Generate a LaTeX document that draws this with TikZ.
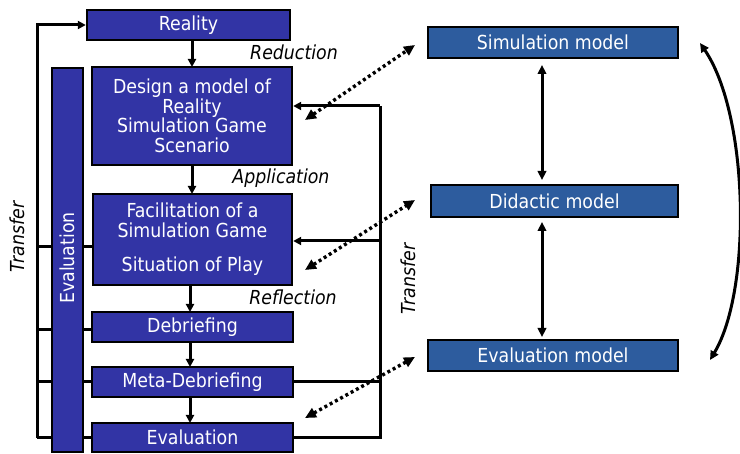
\documentclass[tikz,border=0pt]{standalone}
\usepackage{fontspec}
\setmainfont{DejaVu Sans Condensed}
\usetikzlibrary{arrows.meta,calc}
\definecolor{leftblue}{RGB}{50,52,165}
\definecolor{rightblue}{RGB}{45,92,158}
\begin{document}
\begin{tikzpicture}[x=1pt,y=-1pt,
  lbox/.style={draw=black,line width=2.4pt,fill=leftblue,text=white,
    font=\fontsize{19.3}{19.6}\selectfont,align=center,inner sep=0pt},
  rbox/.style={draw=black,line width=2.4pt,fill=rightblue,text=white,
    font=\fontsize{19.3}{20}\selectfont,align=center,inner sep=0pt},
  conn/.style={line width=3pt},
  tip/.style={-{Triangle[length=8pt,width=8pt]}},
  dtip/.style={{Triangle[length=9pt,width=8.5pt]}-{Triangle[length=9pt,width=8.5pt]}},
  dots/.style={line width=3.4pt,dash pattern=on 3pt off 3pt,
    {Triangle[length=11pt,width=10pt]}-{Triangle[length=11pt,width=10pt]}},
  lbl/.style={font=\fontsize{19.3}{20}\selectfont\itshape,inner sep=0pt}
]
\useasboundingbox[fill=white] (0,0) rectangle (740,454);

% left column
\node[lbox,minimum width=203,minimum height=30] (reality) at (188.5,25) {Reality};
\node[lbox,minimum width=200,minimum height=98] (design) at (192,116)
  {Design a model of\\Reality\\Simulation Game\\Scenario};
\node[lbox,minimum width=199,minimum height=91] (facil) at (192.5,239.5)
  {Facilitation of a\\Simulation Game\\[15pt]Situation of Play};
\node[lbox,minimum width=201,minimum height=30] (debrief) at (192.5,327) {Debriefing};
\node[lbox,minimum width=201,minimum height=30] (meta) at (192.5,382) {Meta-Debriefing};
\node[lbox,minimum width=201,minimum height=29] (evalb) at (192.5,437.5) {Evaluation};

% feedback coordinates
\coordinate (L) at (37,25);
\coordinate (Lb) at (37,438);
\coordinate (R) at (380,106);
\coordinate (Rb) at (380,438);

% left ticks (behind the bar)
\draw[conn] (37,247) -- (facil.west |- 0,247);
\draw[conn] (37,330) -- (debrief.west |- 0,330);
\draw[conn] (37,382) -- (meta.west);
\draw[conn] (Lb) -- (evalb.west |- Lb);
\draw[conn,tip] (Lb) -- (L) -- (reality.west |- L);

\node[lbox,minimum width=31,minimum height=384] (evalbar) at (67.5,260) {};
\node[lbox,rotate=90,fill=none,draw=none] (evaltxt) at (67.5,258) {Evaluation};

% right feedback
\draw[conn] (evalb.east |- Rb) -- (Rb) -- (R);
\draw[conn,tip] (R) -- (design.east |- R);
\draw[conn,tip] (380,241) -- (facil.east |- 0,241);
\draw[conn] (meta.east) -- (380,382);

% down arrows
\draw[conn,tip] (192,40) -- (192,67);
\draw[conn,tip] (192,165) -- (192,194);
\draw[conn,tip] (190,285) -- (190,312);
\draw[conn,tip] (190,342) -- (190,367);
\draw[conn,tip] (190,397) -- (190,423);

% labels
\node[lbl] (red) at (294,52) {Reduction};
\node[lbl] (app) at (281,178) {Application};
\node[lbl] (refl) at (293,297) {Reflection};
\node[lbl,rotate=90] (tl) at (17,237) {Transfer};
\node[lbl,rotate=90] (tr) at (408,279) {Transfer};

% right column
\node[rbox,minimum width=250,minimum height=31] (simm) at (553,42.5) {Simulation model};
\node[rbox,minimum width=247,minimum height=32] (didm) at (554.5,201) {Didactic model};
\node[rbox,minimum width=250,minimum height=31] (evalm) at (553,355.5) {Evaluation model};

\draw[conn,dtip] (542,65) -- (542,180);
\draw[conn,dtip] (542,222) -- (542,337);
\draw[conn,dtip] (700,43) .. controls (749,115) and (752,290) .. (710,360);

% dotted transfer arrows
\coordinate (d1a) at (305,120); \coordinate (d1b) at (415,45);
\coordinate (d2a) at (305,270); \coordinate (d2b) at (415,200);
\coordinate (d3a) at (305,418); \coordinate (d3b) at (415,357);
\draw[dots] (d1a) -- (d1b);
\draw[dots] (d2a) -- (d2b);
\draw[dots] (d3a) -- (d3b);
\end{tikzpicture}
\end{document}
